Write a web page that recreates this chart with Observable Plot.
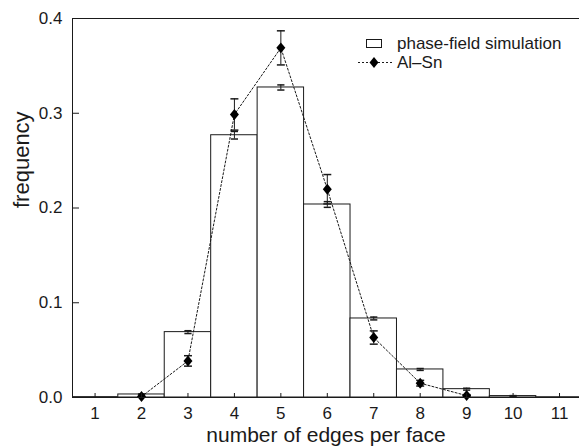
<!DOCTYPE html>
<html><head><meta charset="utf-8">
<script src="https://cdn.jsdelivr.net/npm/d3@7"></script>
<script src="https://cdn.jsdelivr.net/npm/@observablehq/plot@0.6"></script>
<style>body{margin:0;background:#fff} #chart{width:579px;height:447px}</style>
</head><body><div id="chart"></div>
<script>
const edges = [1, 2, 3, 4, 5, 6, 7, 8, 9, 10, 11];
const phaseField = [0.0004, 0.0032, 0.069, 0.2768, 0.3272, 0.2037, 0.0834, 0.0296, 0.0088, 0.0015, 0.0003];
const phaseErr = [0, 0.0005, 0.0015, 0.004, 0.0027, 0.003, 0.0015, 0.001, 0.001, 0.0005, 0];
const alSnEdges = [2, 3, 4, 5, 6, 7, 8, 9];
const alSn = [0.001, 0.0386, 0.2987, 0.369, 0.2198, 0.0633, 0.0151, 0.002];
const alSnErr = [0, 0.0055, 0.0165, 0.018, 0.0155, 0.007, 0.003, 0.001];
const xTicks = [1, 2, 3, 4, 5, 6, 7, 8, 9, 10, 11];
const yTicks = [0, 0.1, 0.2, 0.3, 0.4];
const xDomain = [0.514, 11.43];
const yDomain = [0, 0.4];
const seriesNames = ["phase-field simulation", "Al\u2013Sn"];
const xLabel = "number of edges per face";
const yLabel = "frequency";

const FONT = "'Liberation Sans', Arial, Helvetica, sans-serif";
const INK = "#1a1a1a";

const phase = edges.map((n, i) => ({n, v: phaseField[i], e: phaseErr[i]}));
const alsn = alSnEdges.map((n, i) => ({n, v: alSn[i], e: alSnErr[i]}));
const phaseE = phase.filter(d => d.e > 0);
const alsnE = alsn.filter(d => d.e > 0);

const diamond = {draw(ctx, size) {
  const h = Math.sqrt(size) * 0.62, w = h * 0.82;
  ctx.moveTo(0, -h); ctx.lineTo(w, 0); ctx.lineTo(0, h); ctx.lineTo(-w, 0); ctx.closePath();
}};
const cap = {draw(ctx, size) {
  const w = Math.sqrt(size) * 0.45;
  ctx.moveTo(-w, 0); ctx.lineTo(w, 0);
}};

const plot = Plot.plot({
  width: 579, height: 447,
  marginLeft: 72, marginRight: 0, marginTop: 18, marginBottom: 50,
  style: {fontFamily: FONT, fontSize: "17px", color: INK, background: "white"},
  x: {domain: xDomain},
  y: {domain: yDomain},
  marks: [
    Plot.rect(phase, {x1: d => d.n - 0.5, x2: d => d.n + 0.5, y1: 0, y2: "v", fill: "white", stroke: INK, strokeWidth: 1, clip: true}),
    Plot.ruleX(phaseE, {x: "n", y1: d => d.v - d.e, y2: d => d.v + d.e, stroke: INK}),
    Plot.dot(phaseE, {x: "n", y: d => d.v + d.e, symbol: cap, r: 4.5, fill: "none", stroke: INK}),
    Plot.dot(phaseE, {x: "n", y: d => d.v - d.e, symbol: cap, r: 4.5, fill: "none", stroke: INK}),
    Plot.line(alsn, {x: "n", y: "v", stroke: INK, strokeWidth: 1, strokeDasharray: "2,2"}),
    Plot.ruleX(alsnE, {x: "n", y1: d => d.v - d.e, y2: d => d.v + d.e, stroke: INK}),
    Plot.dot(alsnE, {x: "n", y: d => d.v + d.e, symbol: cap, r: 5, fill: "none", stroke: INK}),
    Plot.dot(alsnE, {x: "n", y: d => d.v - d.e, symbol: cap, r: 5, fill: "none", stroke: INK}),
    Plot.dot(alsn, {x: "n", y: "v", symbol: diamond, r: 5, fill: "#000", stroke: "none"}),
    Plot.ruleY([yDomain[1]], {stroke: INK}),
    Plot.ruleY([yDomain[0]], {stroke: INK}),
    Plot.ruleX([xDomain[0]], {stroke: INK}),
    Plot.axisY({ticks: yTicks, tickSize: 0, tickPadding: 10, tickFormat: d3.format(".1f"), label: null, fontSize: 17, fill: INK}),
    Plot.axisY({ticks: yTicks, tickSize: 7, dx: 7, text: null, label: null, stroke: INK}),
    Plot.axisX({ticks: xTicks, tickSize: 0, tickPadding: 9, tickFormat: d3.format("d"), label: null, fontSize: 17, fill: INK}),
    Plot.axisX({ticks: xTicks, tickSize: 4, dy: -4, text: null, label: null, stroke: INK}),
    Plot.text([xLabel], {frameAnchor: "bottom", dy: 44, fontSize: 21, fill: INK}),
    Plot.text([yLabel], {frameAnchor: "left", dx: -51, rotate: -90, fontSize: 22, fill: INK})
  ]
});

const svg = d3.select(plot);
const g = svg.append("g").attr("font-family", FONT).attr("font-size", 17).attr("fill", INK).attr("text-anchor", "start");
g.append("rect").attr("x", 366.5).attr("y", 39.5).attr("width", 15).attr("height", 8)
  .attr("fill", "white").attr("stroke", INK);
g.append("text").attr("x", 397).attr("y", 43.5).attr("dy", "0.35em").text(seriesNames[0]);
g.append("line").attr("x1", 358).attr("x2", 393).attr("y1", 62.5).attr("y2", 62.5)
  .attr("stroke", INK).attr("stroke-dasharray", "2,2");
g.append("path").attr("transform", "translate(374,62.5)").attr("d", "M0,-5.5L4.5,0L0,5.5L-4.5,0Z").attr("fill", "#000");
g.append("text").attr("x", 397).attr("y", 62.5).attr("dy", "0.35em").text(seriesNames[1]);

document.getElementById("chart").appendChild(plot);
</script>
</body></html>
